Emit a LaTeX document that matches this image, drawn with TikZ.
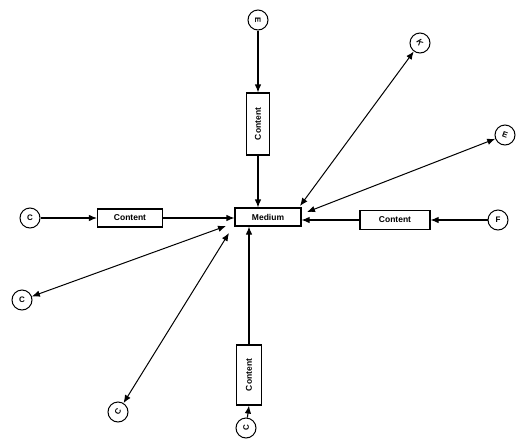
\documentclass[tikz,border=0pt]{standalone}
\usepackage{fontspec}
\setmainfont{Liberation Sans}
\usetikzlibrary{arrows.meta}
\tikzset{
  agent/.style={draw, circle, line width=1pt, minimum size=20pt, inner sep=0pt, font=\bfseries\fontsize{8}{9}\selectfont},
  box/.style={draw, line width=1.1pt, inner sep=2pt, font=\bfseries\fontsize{8.5}{9}\selectfont},
  flow/.style={line width=1.1pt, -{Latex[length=8pt,width=6.5pt]}},
  link/.style={line width=1pt, {Latex[length=8pt,width=6.5pt]}-{Latex[length=8pt,width=6.5pt]}}
}
\begin{document}
\begin{tikzpicture}[x=1pt,y=-1pt]
\useasboundingbox (0,0) rectangle (523,440);
% central medium
\node[box, minimum width=66pt, minimum height=18pt] (m) at (268,217) {Medium};
% content boxes
\node[box, rotate=90, minimum width=62pt, minimum height=23pt] (ct) at (258,124) {Content};
\node[box, minimum width=70pt, minimum height=19pt] (cr) at (395,220) {Content};
\node[box, minimum width=65pt, minimum height=18pt] (cl) at (130,218) {Content};
\node[box, rotate=90, minimum width=60pt, minimum height=25pt] (cb) at (249,375) {Content};
% agents
\node[agent] (at) at (258,20) {\rotatebox{-90}{E}};
\node[agent] (aur) at (420,43) {\rotatebox{-60}{K}};
\node[agent] (ar) at (505,135) {\rotatebox{-20}{E}};
\node[agent] (af) at (498,220) {F};
\node[agent] (al) at (30,218) {C};
\node[agent] (all) at (22,300) {C};
\node[agent] (abl) at (118,412) {\rotatebox{60}{C}};
\node[agent] (ab) at (246,428) {\rotatebox{90}{C}};
% anchor points on the medium for the two-way links
\coordinate (mur) at (300,206);
\coordinate (mr) at (307,212);
\coordinate (mll) at (226,226);
\coordinate (mbl) at (229,233);
% one-way flows through content
\draw[flow] (at) -- (ct.east);
\draw[flow] (ct.west) -- (m.north -| ct.west);
\draw[flow] (af) -- (cr);
\draw[flow] (cr) -- (m.east |- cr);
\draw[flow] (al) -- (cl);
\draw[flow] (cl) -- (m.west |- cl);
\draw[flow] (ab) -- (cb.west);
\draw[flow] (cb.east) -- (m.south -| cb.east);
% two-way links
\draw[link] (aur) -- (mur);
\draw[link] (ar) -- (mr);
\draw[link] (all) -- (mll);
\draw[link] (abl) -- (mbl);
\end{tikzpicture}
\end{document}
